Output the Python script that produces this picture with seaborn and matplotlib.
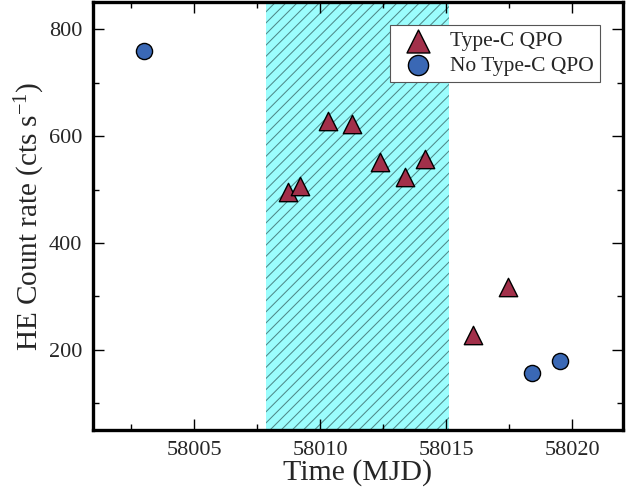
import matplotlib
matplotlib.use("Agg")
import matplotlib.pyplot as plt
import seaborn as sns
import pandas as pd
from matplotlib.ticker import MultipleLocator

# Observations with a type-C QPO detected
qpo_mjd = [58008.71, 58009.19, 58010.31, 58011.25, 58012.37, 58013.37,
           58014.14, 58016.07, 58017.46]
qpo_rate = [495, 507, 628, 622, 552, 523, 558, 228, 317]

# Observations without a type-C QPO
noqpo_mjd = [58003.0, 58018.40, 58019.52]
noqpo_rate = [760, 156, 179]

# Interval highlighted with the hatched band
band_start, band_end = 58007.87, 58015.09

sns.set_theme(style="ticks")
plt.rcParams["font.family"] = ["Liberation Serif", "DejaVu Serif"]
plt.rcParams["mathtext.fontset"] = "custom"
plt.rcParams["mathtext.rm"] = "Liberation Serif"
plt.rcParams["mathtext.it"] = "Liberation Serif:italic"
plt.rcParams["hatch.linewidth"] = 0.75

df_qpo = pd.DataFrame({"mjd": qpo_mjd, "rate": qpo_rate})
df_noqpo = pd.DataFrame({"mjd": noqpo_mjd, "rate": noqpo_rate})

fig = plt.figure(figsize=(6.39, 4.87), dpi=100)
ax = fig.add_axes([0.146, 0.117, 0.8285, 0.878])

ax.axvspan(band_start, band_end, facecolor="#9bfdfd", edgecolor="#4f8a8a",
           hatch="///", linewidth=0, zorder=0)

sns.scatterplot(data=df_qpo, x="mjd", y="rate", ax=ax, marker="^", s=175,
                color="#a2304a", edgecolor="black", linewidth=1.0,
                label="Type-C QPO", zorder=3)
sns.scatterplot(data=df_noqpo, x="mjd", y="rate", ax=ax, marker="o", s=135,
                color="#3a68b5", edgecolor="black", linewidth=1.0,
                label="No Type-C QPO", zorder=3)

ax.set_xlim(58001, 58022)
ax.set_ylim(50, 850)
ax.xaxis.set_major_locator(MultipleLocator(5))
ax.xaxis.set_minor_locator(MultipleLocator(2.5))
ax.yaxis.set_major_locator(MultipleLocator(200))
ax.yaxis.set_minor_locator(MultipleLocator(100))
ax.ticklabel_format(axis="x", useOffset=False, style="plain")

ax.tick_params(which="both", direction="in", top=True, right=True,
               labelsize=16, color="black")
ax.tick_params(which="major", length=8, width=1.0, pad=8)
ax.tick_params(which="minor", length=4, width=1.0)
for side in ax.spines.values():
    side.set_linewidth(2.4)
    side.set_color("black")

ax.set_xlabel("Time (MJD)", fontsize=21.5, labelpad=-1)
ax.set_ylabel("HE Count rate (cts s$^{-1}$)", fontsize=21, labelpad=1)

leg = ax.legend(loc="upper right", bbox_to_anchor=(0.958, 0.948),
                fontsize=15.5, frameon=True, fancybox=False, framealpha=1,
                edgecolor="#555555", borderpad=0.3, handletextpad=0.5,
                labelspacing=0.2, borderaxespad=0, markerscale=1.25)
leg.get_frame().set_linewidth(0.8)

fig.savefig("out.png", dpi=100)
